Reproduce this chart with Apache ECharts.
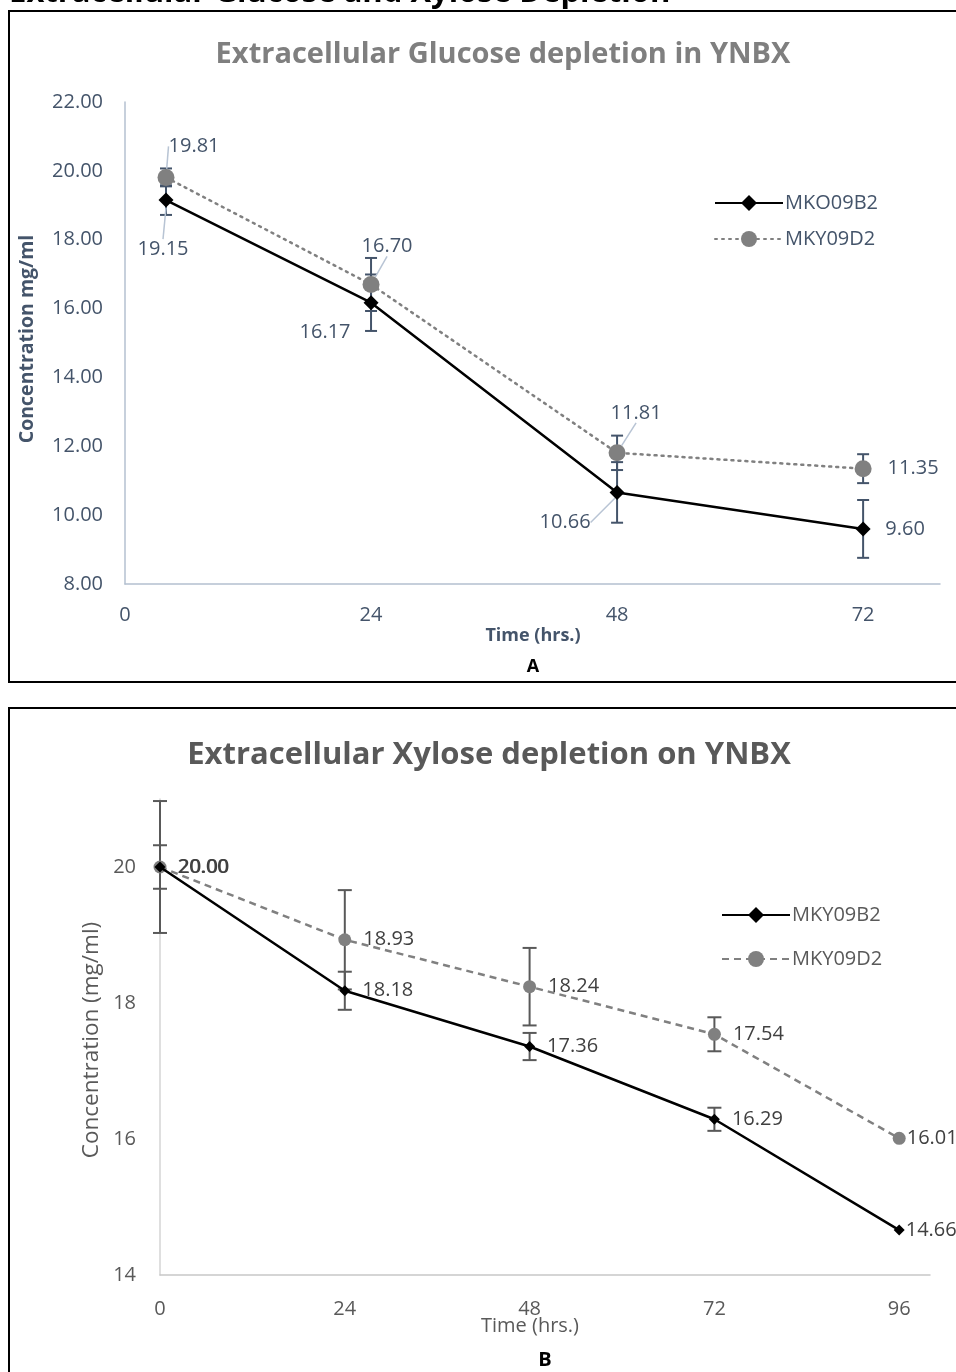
<!DOCTYPE html>
<html>
<head>
<meta charset="utf-8">
<script src="https://cdn.jsdelivr.net/npm/echarts@6/dist/echarts.min.js"></script>
<style>
  html, body { margin: 0; padding: 0; background: #ffffff; }
  #chart { width: 956px; height: 1372px; }
</style>
</head>
<body>
<div id="chart"></div>
<script>
// Panel A: glucose in YNBX
const hoursA = [4, 24, 48, 72];
const glucoseMKO09B2 = [19.15, 16.17, 10.66, 9.60];
const glucoseMKY09D2 = [19.81, 16.70, 11.81, 11.35];
const glucoseErrMKO09B2 = [0.43, 0.82, 0.88, 0.84];
const glucoseErrMKY09D2 = [0.26, 0.77, 0.50, 0.42];
const ticksA = [0, 24, 48, 72];

// Panel B: xylose in YNBX
const hoursB = [0, 24, 48, 72, 96];
const xyloseMKY09B2 = [20.00, 18.18, 17.36, 16.29, 14.66];
const xyloseMKY09D2 = [20.00, 18.93, 18.24, 17.54, 16.01];
const xyloseErrMKY09B2 = [0.32, 0.28, 0.20, 0.17, 0];
const xyloseErrMKY09D2 = [0.97, 0.73, 0.57, 0.25, 0];
const ticksB = [0, 24, 48, 72, 96];

const FONT = '"Open Sans", Lato, sans-serif';
const SLATE = '#44546a';
const GREY_TXT = '#595959';

// label placement for panel A: [dx, dy, draw leader line]
const placeA_B2 = [[-3, 49, true], [-46, 30, false], [-52, 30, true], [42, 0, false]];
const placeA_D2 = [[28, -31, true], [16, -38, true], [19, -40, true], [50, 0, false]];

function pairs(xs, ys) { return xs.map((x, i) => [x, ys[i]]); }
function errRows(xs, ys, es) {
  return xs.map((x, i) => [x, ys[i] - es[i], ys[i] + es[i], es[i]]);
}

function errorBarSeries(name, xAxisIndex, yAxisIndex, rows, color, capHalf, z) {
  return {
    type: 'custom',
    name: name,
    xAxisIndex: xAxisIndex,
    yAxisIndex: yAxisIndex,
    z: z,
    silent: true,
    data: rows,
    encode: { x: 0, y: [1, 2] },
    renderItem: function (params, api) {
      if (api.value(3) === 0) return null;
      const lo = api.coord([api.value(0), api.value(1)]);
      const hi = api.coord([api.value(0), api.value(2)]);
      const style = { stroke: color, lineWidth: 2 };
      return {
        type: 'group',
        children: [
          { type: 'line', shape: { x1: lo[0], y1: lo[1], x2: hi[0], y2: hi[1] }, style: style },
          { type: 'line', shape: { x1: lo[0] - capHalf, y1: lo[1], x2: lo[0] + capHalf, y2: lo[1] }, style: style },
          { type: 'line', shape: { x1: hi[0] - capHalf, y1: hi[1], x2: hi[0] + capHalf, y2: hi[1] }, style: style }
        ]
      };
    }
  };
}

function layoutFrom(place) {
  return function (p) {
    const o = place[p.dataIndex];
    const cx = p.rect.x + p.rect.width / 2;
    const cy = p.rect.y + p.rect.height / 2;
    return { x: cx + o[0], y: cy + o[1], align: 'center', verticalAlign: 'middle' };
  };
}

function pointsA(xs, ys, place) {
  return pairs(xs, ys).map((d, i) => ({ value: d, labelLine: { show: place[i][2] } }));
}

const chart = echarts.init(document.getElementById('chart'), null, { renderer: 'canvas' });

const labelA = {
  show: true, color: SLATE, fontFamily: FONT, fontSize: 20,
  formatter: p => p.value[1].toFixed(2)
};
const labelB = {
  show: true, position: 'right', color: '#404040', fontFamily: FONT, fontSize: 20,
  formatter: p => p.value[1].toFixed(2)
};

const option = {
  backgroundColor: '#ffffff',
  animation: false,
  grid: [
    { left: 125, top: 102, width: 815, height: 482 },
    { left: 160, top: 799, width: 770, height: 476 }
  ],
  xAxis: [
    {
      gridIndex: 0, type: 'value', min: 0, max: 79.5, interval: 24,
      axisLine: { lineStyle: { color: '#b4c0d0', width: 1.5 } },
      axisTick: { show: false },
      splitLine: { show: false },
      axisLabel: {
        color: SLATE, fontFamily: FONT, fontSize: 20, margin: 21,
        formatter: v => (ticksA.indexOf(v) >= 0 ? String(v) : '')
      }
    },
    {
      gridIndex: 1, type: 'value', min: 0, max: 100, interval: 24,
      axisLine: { lineStyle: { color: '#c8c8c8', width: 1.5 } },
      axisTick: { show: false },
      splitLine: { show: false },
      axisLabel: {
        color: GREY_TXT, fontFamily: FONT, fontSize: 20, margin: 24,
        formatter: v => (ticksB.indexOf(v) >= 0 ? String(v) : '')
      }
    }
  ],
  yAxis: [
    {
      gridIndex: 0, type: 'value', min: 8, max: 22, interval: 2,
      axisLine: { show: true, lineStyle: { color: '#b4c0d0', width: 1.5 } },
      axisTick: { show: false },
      splitLine: { show: false },
      axisLabel: { color: SLATE, fontFamily: FONT, fontSize: 20, margin: 22, formatter: v => v.toFixed(2) }
    },
    {
      gridIndex: 1, type: 'value', min: 14, max: 21, interval: 2,
      axisLine: { show: true, lineStyle: { color: '#d4d4d4', width: 1.5 } },
      axisTick: { show: false },
      splitLine: { show: false },
      axisLabel: {
        color: GREY_TXT, fontFamily: FONT, fontSize: 20, margin: 24,
        formatter: v => (v % 2 === 0 ? String(v) : '')
      }
    }
  ],
  legend: [
    {
      data: ['MKO09B2', 'MKY09D2'],
      orient: 'vertical', left: 709, top: 188, itemGap: 16,
      itemWidth: 68, itemHeight: 20,
      textStyle: { color: SLATE, fontFamily: FONT, fontSize: 20, padding: [0, 0, 0, -3] }
    },
    {
      data: ['MKY09B2', 'MKY09D2 '],
      orient: 'vertical', left: 716, top: 900, itemGap: 24,
      itemWidth: 68, itemHeight: 20,
      textStyle: { color: GREY_TXT, fontFamily: FONT, fontSize: 20, padding: [0, 0, 0, -3] }
    }
  ],
  series: [
    errorBarSeries('errA1', 0, 0, errRows(hoursA, glucoseMKO09B2, glucoseErrMKO09B2), SLATE, 6, 1),
    errorBarSeries('errA2', 0, 0, errRows(hoursA, glucoseMKY09D2, glucoseErrMKY09D2), SLATE, 6, 1),
    {
      name: 'MKO09B2', type: 'line', xAxisIndex: 0, yAxisIndex: 0, z: 3,
      data: pointsA(hoursA, glucoseMKO09B2, placeA_B2),
      symbol: 'diamond', symbolSize: 15,
      itemStyle: { color: '#000000' },
      lineStyle: { color: '#000000', width: 2.5 },
      label: labelA,
      labelLayout: layoutFrom(placeA_B2),
      labelLine: { show: true, lineStyle: { color: '#b8c4d4', width: 1.5 } }
    },
    {
      name: 'MKY09D2', type: 'line', xAxisIndex: 0, yAxisIndex: 0, z: 2,
      data: pointsA(hoursA, glucoseMKY09D2, placeA_D2),
      symbol: 'circle', symbolSize: 17,
      itemStyle: { color: '#808080' },
      lineStyle: { color: '#808080', width: 2.5, type: [2, 5], cap: 'round' },
      label: labelA,
      labelLayout: layoutFrom(placeA_D2),
      labelLine: { show: true, lineStyle: { color: '#b8c4d4', width: 1.5 } }
    },
    errorBarSeries('errB1', 1, 1, errRows(hoursB, xyloseMKY09B2, xyloseErrMKY09B2), '#595959', 7, 1),
    errorBarSeries('errB2', 1, 1, errRows(hoursB, xyloseMKY09D2, xyloseErrMKY09D2), '#595959', 7, 1),
    {
      name: 'MKY09D2 ', type: 'line', xAxisIndex: 1, yAxisIndex: 1, z: 2,
      data: pairs(hoursB, xyloseMKY09D2).map((d, i) => ({
        value: d,
        label: { distance: i === hoursB.length - 1 ? 1 : 12 }
      })),
      symbol: 'circle', symbolSize: 13,
      itemStyle: { color: '#808080' },
      lineStyle: { color: '#808080', width: 2.5, type: [7, 5] },
      label: labelB
    },
    {
      name: 'MKY09B2', type: 'line', xAxisIndex: 1, yAxisIndex: 1, z: 3,
      data: pairs(hoursB, xyloseMKY09B2).map((d, i) => ({
        value: d,
        label: { distance: i === hoursB.length - 1 ? 1 : 12 }
      })),
      symbol: 'diamond', symbolSize: 11,
      itemStyle: { color: '#000000' },
      lineStyle: { color: '#000000', width: 2.5 },
      label: labelB
    }
  ],
  graphic: [
    // figure heading, running off the top edge
    { type: 'text', left: -9, top: -22, style: { text: '- Extracellular Glucose and Xylose Depletion', fontFamily: FONT, fontWeight: 'bold', fontSize: 31, fill: '#000000' } },
    // panel frames
    { type: 'polyline', shape: { points: [[960, 11], [9, 11], [9, 682], [960, 682]] }, style: { stroke: '#000000', lineWidth: 2, fill: null } },
    { type: 'polyline', shape: { points: [[960, 708], [9, 708], [9, 1380]] }, style: { stroke: '#000000', lineWidth: 2, fill: null } },
    // panel A texts
    { type: 'text', x: 503, y: 55, style: { text: 'Extracellular Glucose depletion in YNBX', fontFamily: FONT, fontWeight: 'bold', fontSize: 29, fill: '#7f7f7f', align: 'center', verticalAlign: 'middle' } },
    { type: 'text', x: 533, y: 636, style: { text: 'Time (hrs.)', fontFamily: FONT, fontWeight: 'bold', fontSize: 18, fill: SLATE, align: 'center', verticalAlign: 'middle' } },
    { type: 'text', x: 533, y: 667, style: { text: 'A', fontFamily: FONT, fontWeight: 'bold', fontSize: 18, fill: '#000000', align: 'center', verticalAlign: 'middle' } },
    { type: 'text', x: 27, y: 339, rotation: Math.PI / 2, style: { text: 'Concentration mg/ml', fontFamily: FONT, fontWeight: 'bold', fontSize: 19.5, fill: SLATE, align: 'center', verticalAlign: 'middle' } },
    // panel B texts
    { type: 'text', x: 489, y: 755, style: { text: 'Extracellular Xylose depletion on YNBX', fontFamily: FONT, fontWeight: 'bold', fontSize: 31, fill: '#595959', align: 'center', verticalAlign: 'middle' } },
    { type: 'text', x: 530, y: 1326, style: { text: 'Time (hrs.)', fontFamily: FONT, fontSize: 20, fill: GREY_TXT, align: 'center', verticalAlign: 'middle' } },
    { type: 'text', x: 545, y: 1360, style: { text: 'B', fontFamily: FONT, fontWeight: 'bold', fontSize: 20, fill: '#000000', align: 'center', verticalAlign: 'middle' } },
    { type: 'text', x: 92, y: 1040, rotation: Math.PI / 2, style: { text: 'Concentration (mg/ml)', fontFamily: FONT, fontSize: 22.5, fill: GREY_TXT, align: 'center', verticalAlign: 'middle' } }
  ]
};

chart.setOption(option);
</script>
</body>
</html>
